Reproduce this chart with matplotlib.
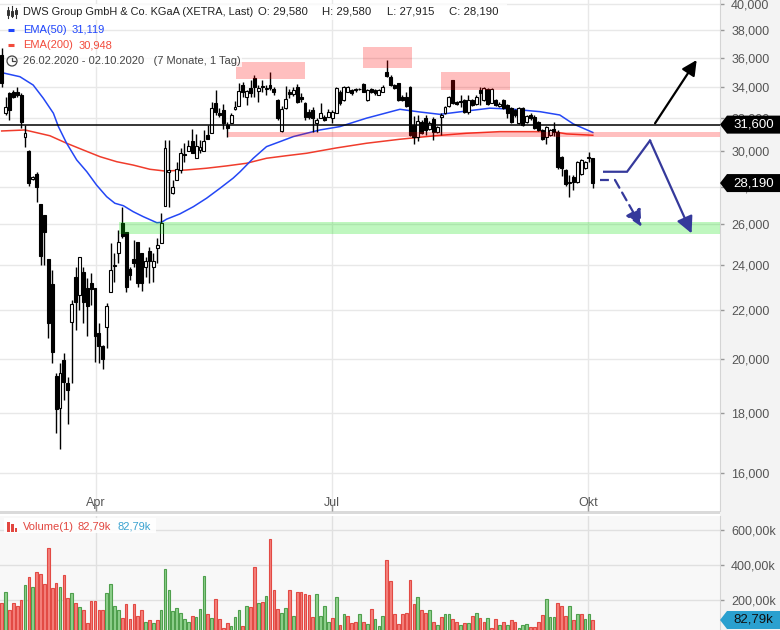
import matplotlib.pyplot as plt
import numpy as np
from matplotlib.patches import Rectangle, Polygon, Circle
from matplotlib.ticker import FixedLocator, NullLocator, FuncFormatter

# --- data (index 0 = 26.02.2020, last = 02.10.2020) ---
opens = [36200, 32310, 33600, 33710, 33710, 33490, 30830, 30030, 28400, 28700,
         27050, 26490, 24290, 23150, 19340, 18160, 19950, 19060, 21470, 23450,
         22640, 23680, 22960, 23210, 22960, 21020, 20510, 21260, 22780, 23970,
         24610, 26060, 25640, 23820, 24290, 25140, 24600, 23950, 24670, 23950,
         24850, 25080, 26970, 28790, 27660, 28360, 28920, 29830, 30030, 30610,
         29590, 30060, 30010, 30970, 31100, 32950, 32350, 32520, 31580, 31690,
         32560, 32750, 34150, 33380, 33930, 34590, 33760, 34100, 33900, 34150,
         33870, 33180, 31200, 32670, 33710, 33540, 34040, 33380, 32980, 32420,
         32520, 31680, 31990, 32100, 32100, 31990, 32310, 33710, 33160, 33710,
         33820, 33890, 33870, 34200, 33160, 33870, 33820, 33490, 33710, 35040,
         34700, 34150, 34260, 33380, 33380, 34000, 31580, 30830, 31790, 31990,
         31310, 31930, 31170, 32100, 32310, 32780, 34480, 33050, 33110, 33160,
         32420, 33160, 32910, 33820, 33160, 33870, 32990, 33160, 32780, 33160,
         32840, 32620, 32520, 31690, 32620, 31790, 32200, 32090, 31790, 31270,
         30870, 30970, 31310, 31170, 29680, 28920, 28180, 28510, 28270, 28720,
         29010, 29590, 29580]
highs = [36700, 33380, 33710, 33820, 34040, 33600, 31580, 30100, 28600, 28830,
         27050, 26490, 24290, 23790, 19440, 19820, 20220, 19310, 22430, 23950,
         24420, 23950, 23410, 23640, 22960, 21430, 20550, 22310, 25060, 24580,
         25720, 26920, 25640, 23950, 25220, 25140, 24600, 24420, 24900, 24600,
         25300, 26570, 30670, 30670, 28360, 29380, 30200, 30470, 30670, 31300,
         31050, 30670, 31280, 31580, 33000, 33820, 32660, 32890, 31790, 32350,
         33060, 34260, 34370, 33820, 34480, 34810, 34150, 34480, 34150, 35040,
         34000, 33200, 32800, 34050, 33900, 34000, 34200, 33600, 33050, 32600,
         32700, 32000, 32950, 32200, 32550, 32500, 34000, 33800, 34100, 34100,
         33900, 33950, 33950, 34300, 33900, 33950, 33900, 33850, 34150, 35850,
         34800, 34200, 34300, 33450, 33700, 34100, 32130, 32200, 31900, 32200,
         31800, 32100, 31500, 32350, 32800, 33400, 34500, 33100, 33500, 33250,
         33500, 33250, 33450, 34040, 34000, 33950, 33950, 33250, 33000, 33250,
         32900, 32700, 32600, 32700, 32700, 32200, 32300, 32200, 31850, 31350,
         31500, 31350, 31750, 31250, 29700, 29000, 28650, 28650, 29450, 29550,
         29450, 29930, 29580]
lows = [34000, 32200, 31890, 33270, 33380, 31370, 30270, 28030, 28350, 27140,
        24000, 24000, 20820, 19820, 17290, 16760, 18450, 17600, 19060, 21160,
        22000, 21430, 20890, 22210, 19880, 19820, 19600, 20420, 22780, 23250,
        24100, 25300, 22800, 23330, 23950, 22990, 22850, 23480, 23190, 23250,
        24100, 25080, 26970, 26920, 27580, 28360, 28760, 29370, 30030, 29870,
        29590, 29870, 30010, 30700, 31100, 32200, 32050, 31330, 30870, 31690,
        32520, 32750, 33380, 32860, 33380, 33380, 33050, 33710, 33490, 33820,
        33490, 31900, 31150, 32600, 33300, 33400, 32950, 33050, 31900, 31950,
        31170, 31170, 31990, 31800, 32050, 31700, 32310, 32850, 33100, 33650,
        33500, 33700, 33800, 33650, 33100, 33600, 33500, 33450, 33650, 34700,
        34100, 33900, 33100, 33100, 32700, 30900, 30440, 30600, 31000, 30970,
        31250, 30670, 31100, 30970, 32250, 32700, 32900, 32850, 32700, 32350,
        32250, 32800, 32850, 32860, 33100, 32850, 32950, 32800, 32700, 32550,
        32000, 31700, 32100, 31650, 31500, 31700, 31900, 31300, 31200, 30650,
        30450, 30900, 30900, 29000, 28600, 28050, 27450, 27800, 28200, 28650,
        28950, 29350, 27915]
closes = [34300, 32730, 32520, 33380, 33490, 31790, 31070, 28180, 28550, 27960,
          24470, 25640, 21430, 20280, 18120, 19440, 19130, 18820, 22250, 22330,
          24420, 22330, 22170, 22910, 20930, 20520, 20010, 22170, 23790, 24010,
          25140, 25420, 23020, 23550, 24130, 23190, 23190, 24190, 24190, 24190,
          24960, 26090, 30170, 28920, 27990, 29000, 29880, 29780, 30300, 29870,
          30300, 30250, 30580, 30730, 32630, 32420, 32200, 31690, 31370, 32200,
          32730, 33770, 33710, 33770, 33640, 34040, 33930, 34000, 33930, 33930,
          33670, 31990, 32600, 33200, 33540, 33820, 33050, 33200, 32090, 32090,
          31990, 31890, 32310, 31890, 32420, 32420, 33930, 32950, 34000, 34000,
          33600, 33780, 33890, 33710, 33820, 33670, 33600, 33780, 34040, 34770,
          34150, 33930, 33160, 33160, 32780, 30970, 30830, 31850, 31070, 31270,
          31730, 31170, 31440, 32200, 32730, 33340, 32990, 32910, 33010, 32420,
          33160, 32840, 33380, 33600, 33930, 32910, 33870, 32840, 32910, 32620,
          32310, 31790, 32200, 32620, 31580, 32130, 31990, 31370, 31270, 30710,
          31440, 31270, 31170, 29070, 29020, 28140, 28270, 28270, 29390, 29490,
          29390, 29690, 28190]

# volume in thousands, colour as shown ('g' / 'r')
volume = [181, 245, 138, 181, 161, 200, 284, 330, 273, 358,
          347, 288, 498, 268, 296, 273, 339, 206, 239, 183,
          159, 138, 63, 194, 194, 138, 138, 239, 288, 164,
          138, 97, 172, 86, 172, 108, 142, 74, 82, 63,
          82, 138, 375, 256, 132, 149, 125, 86, 69, 104,
          99, 144, 333, 115, 93, 204, 86, 38, 63, 48,
          99, 138, 48, 161, 155, 386, 183, 187, 222, 548,
          256, 144, 125, 149, 256, 104, 245, 245, 234, 228,
          99, 234, 104, 161, 69, 93, 217, 54, 115, 104,
          63, 74, 115, 74, 59, 144, 91, 48, 104, 425,
          307, 119, 59, 115, 125, 313, 176, 217, 142, 125,
          142, 74, 52, 99, 115, 119, 86, 74, 52, 63,
          63, 104, 125, 93, 72, 93, 38, 86, 52, 72,
          52, 80, 74, 38, 52, 59, 41, 45, 72, 112,
          204, 99, 99, 183, 161, 104, 161, 82, 119, 115,
          86, 115, 83]
vol_dir = list('rgrrrrgrgr' 'rrrrrgrrgr' 'grrrrrrggg' 'grrrrrrgrg'
               'rggggggggr' 'gggrgrrrrg' 'ggrgrrgrgr' 'rrggrgrrrr'
               'rggggrgrgr' 'rrgrgrgggr' 'rrrrrrrgrr' 'grgrggrrgr'
               'grgrrgrrgr' 'grrgggrrrr' 'gggrrrgrgr' 'ggr')

ema50_x = [0, 4.7, 8.1, 10.7, 13.3, 14.6, 16.7, 19.3, 21.9, 24.4, 27.0, 29.1, 31.3,
           33.8, 36.4, 39.9, 41.1, 42.4, 45.8, 49.3, 52.7, 56.1, 59.5, 61.3, 64.7,
           68.1, 71.6, 75.0, 81.8, 87.0, 93.8, 102.4, 107.5, 112.7, 119.5, 125.5,
           130.7, 138.4, 143.5, 147.0, 152.0]
ema50 = [34980, 34700, 34140, 33270, 32310, 31470, 30470, 29490, 28820, 28080, 27450,
         27100, 26970, 26660, 26400, 26090, 26110, 26270, 26540, 26920, 27370, 27900,
         28460, 28820, 29590, 30270, 30570, 30870, 31270, 31480, 32000, 32560, 32390,
         32240, 32450, 32630, 32580, 32410, 32200, 31640, 31120]
ema200_x = [0, 6.0, 12.4, 16.7, 21.0, 25.3, 29.6, 33.8, 38.1, 42.0, 47.5, 52.7, 57.8,
            62.9, 68.1, 73.3, 78.4, 86.0, 93.8, 102.4, 111.0, 119.5, 128.1, 141.7,
            145.3, 152.0]
ema200 = [31210, 31270, 30920, 30470, 30070, 29680, 29390, 29200, 28960, 28860, 28920,
          29020, 29150, 29300, 29590, 29740, 29880, 30190, 30470, 30710, 30910, 31070,
          31170, 31170, 31030, 30950]

resist_zones = [(60.2, 78.0, 34550, 35710), (92.9, 105.5, 35300, 36770),
                (113.0, 130.7, 33820, 35020)]
resist_band = (58.3, 30830, 31130)
support_band = (30.2, 25520, 26110)
level = 31600
last_price = 28190
last_volume = 82.79

up_path = ([168.0, 178.7], [31680, 35850])
down_path = ([154.9, 160.8, 166.7, 177.4], [28820, 28820, 30630, 25550])
dash_path = ([153.8, 157.7, 164.5], [28360, 28360, 25890])

months = ['Apr', 'Jul', 'Okt']
month_pos = [24.2, 84.9, 150.7]
price_ticks = list(range(16000, 40001, 2000))
vol_ticks = [200, 400, 600]

# --- style ---
plt.rcParams['font.family'] = ['Liberation Sans', 'DejaVu Sans']
W, H = 780, 630
navy = '#35399b'
grid_c = '#e8e8e8'
x_lo, x_hi = -0.43, 184.7
hdr = 8.0

fig = plt.figure(figsize=(W / 100, H / 100), dpi=100)
fig.patches.append(Rectangle((720 / W, 0), 60 / W, 1, transform=fig.transFigure,
                             fc='#f3f3f3', ec='none', zorder=-5))
fig.patches.append(Rectangle((0, (H - 514) / H), 720 / W, 3 / H, transform=fig.transFigure,
                             fc='#dadada', ec='none', zorder=-4))

ax = fig.add_axes([0, (H - 511) / H, 720 / W, 511 / H])
axv = fig.add_axes([0, 0, 720 / W, 114 / H])

# main price panel
ax.set_yscale('log')
ax.set_xlim(x_lo, x_hi)
ax.set_ylim(14855, 40310)
ax.set_axisbelow(True)
for s in ['top', 'left', 'bottom']:
    ax.spines[s].set_visible(False)
ax.spines['right'].set_color('#d4d4d4')

o = np.array(opens)
c = np.array(closes)
idx = np.arange(len(closes))
up = c >= o
bot = np.minimum(o, c)
top = np.maximum(o, c)

ax.plot(ema200_x, ema200, color='#f03c2c', lw=1.1, zorder=2)
ax.plot(ema50_x, ema50, color='#2447f5', lw=1.1, zorder=2)
ax.vlines(idx, lows, highs, color='black', lw=1.0, zorder=3)
ax.bar(idx, top - bot, bottom=bot, width=0.75, color=np.where(up, 'white', 'black'),
       edgecolor='black', lw=0.8, zorder=4)

for x0, x1, p0, p1 in resist_zones:
    ax.add_patch(Rectangle((x0, p0), x1 - x0, p1 - p0, fc='red', alpha=0.25, ec='none', zorder=5))
ax.add_patch(Rectangle((resist_band[0], resist_band[1]), x_hi - resist_band[0],
                       resist_band[2] - resist_band[1], fc='red', alpha=0.25, ec='none', zorder=5))
ax.add_patch(Rectangle((support_band[0], support_band[1]), x_hi - support_band[0],
                       support_band[2] - support_band[1], fc='#00e000', alpha=0.25, ec='none', zorder=5))
ax.axhline(level, color='black', lw=1.1, zorder=6)

# scenario arrows
ax.annotate('', xy=(up_path[0][1], up_path[1][1]), xytext=(up_path[0][0], up_path[1][0]),
            arrowprops=dict(arrowstyle='-|>,head_length=0.9,head_width=0.45', color='black',
                            lw=1.6, mutation_scale=10, shrinkA=0, shrinkB=0), zorder=7)
ax.plot(down_path[0][:-1], down_path[1][:-1], color=navy, lw=1.6, zorder=7,
        solid_joinstyle='miter')
ax.annotate('', xy=(down_path[0][-1], down_path[1][-1]),
            xytext=(down_path[0][-2], down_path[1][-2]),
            arrowprops=dict(arrowstyle='-|>,head_length=1.0,head_width=0.5', color=navy,
                            lw=1.6, mutation_scale=10, shrinkA=0, shrinkB=0), zorder=7)
ax.plot(dash_path[0][:-1], dash_path[1][:-1], color=navy, lw=1.6, ls=(0, (4, 2.5)), zorder=7)
ax.annotate('', xy=(dash_path[0][-1], dash_path[1][-1]),
            xytext=(dash_path[0][-2], dash_path[1][-2]),
            arrowprops=dict(arrowstyle='-|>,head_length=1.0,head_width=0.5', color=navy,
                            lw=1.6, ls=(0, (4, 2.5)), mutation_scale=10, shrinkA=0, shrinkB=0),
            zorder=7)

ax.yaxis.set_major_locator(FixedLocator(price_ticks))
ax.yaxis.set_minor_locator(NullLocator())
ax.yaxis.set_major_formatter(FuncFormatter(lambda v, p: f'{v:,.0f}'))
ax.yaxis.set_minor_formatter(FuncFormatter(lambda v, p: ''))
ax.yaxis.tick_right()
ax.tick_params(axis='y', direction='out', length=3, width=1, color='#999999', pad=5,
               labelsize=9, labelcolor='#555555')
ax.set_xticks(month_pos)
ax.set_xticklabels(months)
ax.tick_params(axis='x', direction='in', length=4, width=1, color='#999999', pad=-10,
               labelsize=9, labelcolor='#555555')
ax.grid(True, color=grid_c, lw=1.0)

# volume panel
axv.set_facecolor('#f8f8f8')
axv.set_xlim(x_lo, x_hi)
axv.set_ylim(25.4, 678.9)
axv.set_axisbelow(True)
for s in ['top', 'left', 'bottom']:
    axv.spines[s].set_visible(False)
axv.spines['right'].set_color('#d4d4d4')
fills = ['#8fd08d' if d == 'g' else '#f5817c' for d in vol_dir]
edges = ['#4f9f4d' if d == 'g' else '#e24a44' for d in vol_dir]
axv.bar(idx, volume, width=0.7, color=fills, edgecolor=edges, lw=0.8, zorder=3)
axv.set_xticks(month_pos)
axv.set_xticklabels([])
axv.tick_params(axis='x', length=0)
axv.yaxis.set_major_locator(FixedLocator(vol_ticks))
axv.yaxis.set_major_formatter(FuncFormatter(lambda v, p: f'{v:.0f},00k'))
axv.yaxis.tick_right()
axv.tick_params(axis='y', direction='out', length=3, width=1, color='#999999', pad=5,
                labelsize=9, labelcolor='#555555')
axv.grid(True, color='#e0e0e0', lw=1.0)

# overlay in pixel coordinates for header, legend and price flags
ov = fig.add_axes([0, 0, 1, 1], zorder=10)
ov.set_xlim(0, W)
ov.set_ylim(H, 0)
ov.axis('off')
ov.patch.set_alpha(0)


def pix_y(axis, val):
    return H - axis.transData.transform((0, val))[1]


def flag(yp, label, fc, tc):
    ov.add_patch(Polygon([(720, yp), (727, yp - 9), (780, yp - 9), (780, yp + 9), (727, yp + 9)],
                         closed=True, fc=fc, ec='none'))
    ov.text(753.5, yp, label, color=tc, ha='center', va='center', fontsize=9.5)


flag(pix_y(ax, level), f'{level:,}', 'black', 'white')
flag(pix_y(ax, last_price), f'{last_price:,}', 'black', 'white')
flag(pix_y(axv, last_volume), f'{last_volume:.2f}k'.replace('.', ','), '#2aa0cf', '#111111')

# header
ov.add_patch(Rectangle((21, 4), 486, 16, fc='white', ec='none', alpha=0.75))
for xx, y0, y1, b0, b1, filled in [(8, 7, 18, 10, 15, False), (12, 6, 17, 11, 16, True),
                                    (16, 8, 18, 10, 14, True)]:
    ov.plot([xx, xx], [y0, y1], color='#333333', lw=0.8)
    ov.add_patch(Rectangle((xx - 1.3, b0), 2.6, b1 - b0, fc='#333333' if filled else 'white',
                           ec='#333333', lw=0.7))
ov.text(23, 12, 'DWS Group GmbH & Co. KGaA (XETRA, Last)', fontsize=7.9, color='#222222',
        va='center')
for xx, s in [(258, 'O: 29,580'), (322, 'H: 29,580'), (387, 'L: 27,915'), (449, 'C: 28,190')]:
    ov.text(xx, 12, s, fontsize=8.2, color='#222222', va='center')
ov.plot([8, 14], [30, 30], color='#1f45fc', lw=2.2, solid_capstyle='butt')
ov.text(23, 30, 'EMA(50)', fontsize=hdr, color='#1f45fc', va='center')
ov.text(72, 30, '31,119', fontsize=hdr, color='#1f45fc', va='center')
ov.plot([8, 14], [45, 45], color='#f24b3c', lw=2.2, solid_capstyle='butt')
ov.text(23, 45, 'EMA(200)', fontsize=hdr, color='#f24b3c', va='center')
ov.text(79, 45, '30,948', fontsize=hdr, color='#f24b3c', va='center')
ov.add_patch(Circle((12, 61), 5, fill=False, ec='#444444', lw=0.9))
ov.plot([12, 12, 15], [58, 61, 61], color='#444444', lw=0.9)
ov.text(23, 61, '26.02.2020 - 02.10.2020   (7 Monate, 1 Tag)', fontsize=hdr,
        color='#444444', va='center', bbox=dict(fc='white', ec='none', alpha=0.75, pad=1))

# volume legend
ov.add_patch(Rectangle((4, 518), 152, 15, fc='white', ec='none', alpha=0.9))
for xx, y0 in [(7.3, 521.7), (11, 524.3), (14.7, 527.7)]:
    ov.add_patch(Rectangle((xx, y0), 2.7, 531.7 - y0, fc='#e2463f', ec='none'))
ov.text(23, 526.5, 'Volume(1)', fontsize=hdr, color='#e2463f', va='center')
ov.text(78, 526.5, '82,79k', fontsize=hdr, color='#e2463f', va='center')
ov.text(117, 526.5, '82,79k', fontsize=hdr, color='#3aa2d0', va='center')

fig.savefig('out.png', dpi=100)
